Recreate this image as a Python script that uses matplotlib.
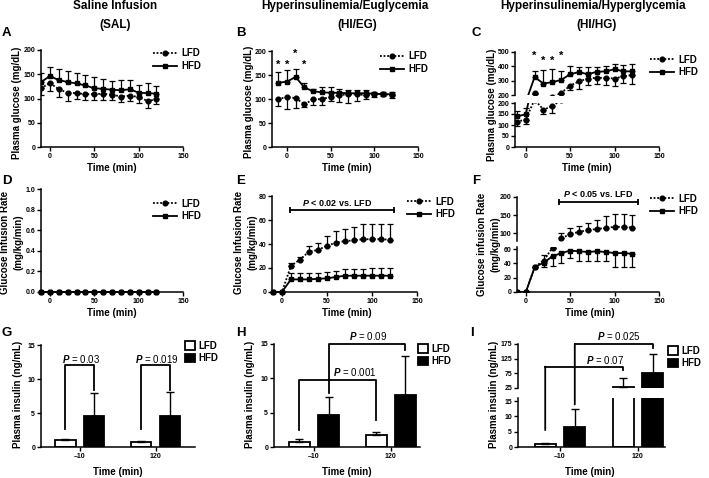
import matplotlib
matplotlib.use('Agg')
import matplotlib.pyplot as plt
from matplotlib.patches import ConnectionPatch, Patch
from matplotlib.lines import Line2D
import numpy as np

plt.rcParams['font.family'] = ['Liberation Sans', 'DejaVu Sans']
plt.rcParams['font.weight'] = 'bold'
plt.rcParams['axes.linewidth'] = 1.1
plt.rcParams['mathtext.fontset'] = 'custom'
plt.rcParams['mathtext.rm'] = 'Liberation Sans'
plt.rcParams['mathtext.it'] = 'Liberation Sans:italic'
plt.rcParams['mathtext.bf'] = 'Liberation Sans:bold'
plt.rcParams['mathtext.bfit'] = 'Liberation Sans:italic:bold'

# ---------------- data ----------------
time = [-10, 0, 10, 20, 30, 40, 50, 60, 70, 80, 90, 100, 110, 120]

# A: saline, plasma glucose
sal_lfd = [121, 132, 119, 112, 111, 109, 109, 110, 108, 104, 106, 103, 95, 98]
sal_lfd_err = [13, 17, 16, 17, 13, 12, 13, 14, 11, 11, 11, 13, 15, 10]
sal_hfd = [134, 146, 138, 134, 131, 127, 121, 120, 118, 117, 119, 112, 111, 110]
sal_hfd_err = [19, 19, 22, 22, 22, 22, 23, 21, 18, 21, 20, 16, 20, 16]

# B: HI/EG, plasma glucose
eg_lfd = [100, 104, 102, 89, 99, 100, 104, 108, 110, 110, 108, 110, 110, 108]
eg_lfd_err = [15, 24, 20, 5, 11, 12, 9, 14, 18, 14, 8, 6, 4, 6]
eg_hfd = [134, 136, 146, 124, 116, 114, 113, 113, 112, 112, 112, 111, 110, 110]
eg_hfd_err = [22, 24, 17, 9, 4, 10, 11, 8, 7, 7, 6, 4, 4, 5]
eg_star_t = [-10, 0, 10, 20]
eg_star_y = [172, 172, 194, 172]

# C: HI/HG, plasma glucose
hg_lfd = [115, 125, 215, 170, 185, 215, 265, 295, 315, 320, 320, 315, 330, 340]
hg_lfd_err = [20, 20, 5, 20, 31, 8, 30, 50, 45, 45, 50, 50, 45, 60]
hg_hfd = [140, 148, 325, 280, 290, 305, 345, 360, 345, 362, 365, 380, 365, 365]
hg_hfd_err = [25, 29, 43, 93, 88, 63, 60, 36, 47, 34, 35, 35, 43, 50]
hg_star_t = [10, 20, 30, 40]
hg_star_y = [470, 437, 437, 470]

# D: saline, GIR
gir_sal_lfd = [0] * 14
gir_sal_hfd = [0] * 14

# E: HI/EG, GIR
gir_eg_lfd = [0, 0, 21.7, 27, 33.6, 35, 38.6, 41, 42.5, 43, 44, 44, 44, 43.6]
gir_eg_lfd_err = [0, 0, 2.5, 2.5, 4.5, 5.5, 8, 10, 10, 11, 12.5, 13, 13, 12.8]
gir_eg_hfd = [0, 0, 10.5, 10.5, 10.5, 11, 11.4, 12.5, 13.6, 13.6, 13.6, 13.6, 13.6, 13.6]
gir_eg_hfd_err = [0, 0, 5, 5, 5, 5, 5, 4.7, 5.4, 5.4, 5.4, 6, 6, 6]

# F: HI/HG, GIR
gir_hg_lfd = [0, 0, 35, 44, 62, 86, 98, 104, 109, 112, 115, 118, 118, 116]
gir_hg_lfd_err = [0, 0, 0, 8, 0, 14, 16, 17, 20, 26, 33, 35, 35, 34]
gir_hg_hfd = [0, 0, 35, 41, 50, 54.5, 58, 57, 56, 57, 56, 54.5, 54.5, 53.5]
gir_hg_hfd_err = [0, 0, 0, 6, 14, 14.5, 11, 14, 12, 13, 12, 20, 19, 19]

# G-I: plasma insulin bars
bar_labels = ['\u201310', '120']
ins_sal_lfd = [1.05, 0.8]
ins_sal_lfd_err = [0.15, 0.15]
ins_sal_hfd = [4.5, 4.6]
ins_sal_hfd_err = [3.5, 3.5]
ins_eg_lfd = [0.7, 1.7]
ins_eg_lfd_err = [0.4, 0.5]
ins_eg_hfd = [4.6, 7.6]
ins_eg_hfd_err = [2.7, 5.6]
ins_hg_lfd = [1.0, 28]
ins_hg_lfd_err = [0.4, 32]
ins_hg_hfd = [6.6, 76]
ins_hg_hfd_err = [5.8, 65]

# ---------------- layout helpers ----------------
W, H = 709, 478
fig = plt.figure(figsize=(W / 100, H / 100), dpi=100)


def rect(l, r, t, b):
    return [l / W, 1 - b / H, (r - l) / W, (b - t) / H]


def fx(x):
    return x / W


def fy(y):
    return 1 - y / H


LW = 1.3
TICK_FS = 5
LAB_FS = 7


def style(ax, xaxis=True):
    ax.spines['top'].set_visible(False)
    ax.spines['right'].set_visible(False)
    ax.tick_params(direction='out', length=3, width=1, labelsize=TICK_FS, pad=1.2)
    if not xaxis:
        ax.spines['bottom'].set_visible(False)
        ax.tick_params(axis='x', bottom=False, labelbottom=False)


LFD_STYLE = dict(ls=(0, (1, 1)), marker='o', ms=3.4)
HFD_STYLE = dict(ls='-', marker='s', ms=3.4)


def series(ax, y, err, direction, st):
    y = np.asarray(y, float)
    err = np.asarray(err, float)
    z = np.zeros_like(err)
    yerr = [err, z] if direction == 'down' else [z, err]
    ax.errorbar(time, y, yerr=yerr, color='black', lw=LW, elinewidth=0.9,
                capsize=2.2, capthick=0.9, **st)


def line_legend(ax, x, y):
    h1 = Line2D([], [], color='k', lw=LW, **LFD_STYLE)
    h2 = Line2D([], [], color='k', lw=LW, **HFD_STYLE)
    ax.legend([h1, h2], ['LFD', 'HFD'], loc='center left',
              bbox_to_anchor=(fx(x), fy(y)), bbox_transform=fig.transFigure,
              frameon=False, fontsize=7, handlelength=2.5, handletextpad=0.4,
              labelspacing=0.3, borderpad=0, borderaxespad=0)


def bar_legend(ax, x, y):
    h1 = Patch(facecolor='white', edgecolor='black', lw=LW)
    h2 = Patch(facecolor='black', edgecolor='black', lw=LW)
    ax.legend([h1, h2], ['LFD', 'HFD'], loc='center left',
              bbox_to_anchor=(fx(x), fy(y)), bbox_transform=fig.transFigure,
              frameon=False, fontsize=7, handlelength=1.0, handleheight=1.0,
              handletextpad=0.4, labelspacing=0.25, borderpad=0, borderaxespad=0)


def ylabel(x, y, s, ls=1.2):
    fig.text(fx(x), fy(y), s, rotation=90, ha='center', va='center',
             fontsize=LAB_FS, weight='bold', linespacing=ls, multialignment='center')


def xlabel(x, y, s='Time (min)'):
    fig.text(fx(x), fy(y), s, ha='center', va='center', fontsize=LAB_FS, weight='bold')


def letter(x, y, s):
    fig.text(fx(x), fy(y), s, ha='left', va='center', fontsize=9.5, weight='bold')


XT = [0, 50, 100, 150]

# ---------------- titles ----------------
fig.text(fx(115), fy(6), 'Saline Infusion', ha='center', va='center', fontsize=8.5, weight='bold')
fig.text(fx(115), fy(25), '(SAL)', ha='center', va='center', fontsize=8.5, weight='bold')
fig.text(fx(345), fy(6), 'Hyperinsulinemia/Euglycemia', ha='center', va='center', fontsize=8.5, weight='bold')
fig.text(fx(357), fy(25), '(HI/EG)', ha='center', va='center', fontsize=8.5, weight='bold')
fig.text(fx(593), fy(6), 'Hyperinsulinemia/Hyperglycemia', ha='center', va='center', fontsize=8.5, weight='bold')
fig.text(fx(597), fy(25), '(HI/HG)', ha='center', va='center', fontsize=8.5, weight='bold')

# ---------------- A ----------------
axA = fig.add_axes(rect(41, 183, 50, 147))
series(axA, sal_lfd, sal_lfd_err, 'down', LFD_STYLE)
series(axA, sal_hfd, sal_hfd_err, 'up', HFD_STYLE)
axA.set_xlim(-10, 150)
axA.set_ylim(0, 200)
axA.set_xticks(XT)
axA.set_yticks([0, 50, 100, 150, 200])
style(axA)
line_legend(axA, 153, 59.5)
letter(2, 33, 'A')
ylabel(17, 103, 'Plasma glucose (mg/dL)')
xlabel(112, 168)

# ---------------- B ----------------
axB = fig.add_axes(rect(272, 418, 51, 147))
series(axB, eg_lfd, eg_lfd_err, 'down', LFD_STYLE)
series(axB, eg_hfd, eg_hfd_err, 'up', HFD_STYLE)
for t, yv in zip(eg_star_t, eg_star_y):
    axB.text(t, yv, '*', ha='center', va='center', fontsize=8, weight='bold')
axB.set_xlim(-17, 150)
axB.set_ylim(0, 200)
axB.set_xticks(XT)
axB.set_yticks([0, 50, 100, 150, 200])
style(axB)
line_legend(axB, 380, 62.5)
letter(236, 33, 'B')
ylabel(249, 102, 'Plasma glucose (mg/dL)')
xlabel(347, 168)

# ---------------- C (broken) ----------------
axCl = fig.add_axes(rect(515, 659, 103, 147))
axCu = fig.add_axes(rect(515, 659, 52, 95), sharex=axCl)
for ax in (axCl, axCu):
    series(ax, hg_lfd, hg_lfd_err, 'down', LFD_STYLE)
    series(ax, hg_hfd, hg_hfd_err, 'up', HFD_STYLE)
for t, yv in zip(hg_star_t, hg_star_y):
    axCu.text(t, yv, '*', ha='center', va='center', fontsize=8, weight='bold')
axCl.set_xlim(-12, 150)
axCl.set_ylim(0, 200)
axCu.set_ylim(200, 500)
axCl.set_xticks(XT)
axCl.set_yticks([0, 50, 100, 150, 200])
axCu.set_yticks([200, 300, 400, 500])
style(axCl)
style(axCu, xaxis=False)
line_legend(axCu, 650, 66)
letter(472, 33, 'C')
ylabel(492, 105, 'Plasma glucose (mg/dL)')
xlabel(587, 168)

# ---------------- D ----------------
axD = fig.add_axes(rect(41, 183, 189, 292))
series(axD, gir_sal_lfd, [0] * 14, 'up', LFD_STYLE)
series(axD, gir_sal_hfd, [0] * 14, 'up', HFD_STYLE)
axD.set_xlim(-10, 150)
axD.set_ylim(0, 1.0)
axD.set_xticks(XT)
axD.set_yticks([0, 0.2, 0.4, 0.6, 0.8, 1.0])
axD.set_yticklabels(['0.0', '0.2', '0.4', '0.6', '0.8', '1.0'])
for l in axD.get_lines():
    l.set_clip_on(False)
style(axD)
line_legend(axD, 153, 210)
letter(2, 181, 'D')
ylabel(12, 242, 'Glucose Infusion Rate\n(mg/kg/min)', ls=1.45)
xlabel(112, 313)

# ---------------- E ----------------
axE = fig.add_axes(rect(272, 417, 196, 292))
series(axE, gir_eg_lfd, gir_eg_lfd_err, 'up', LFD_STYLE)
series(axE, gir_eg_hfd, gir_eg_hfd_err, 'up', HFD_STYLE)
axE.plot([9, 125], [68.3, 68.3], color='k', lw=LW)
axE.plot([9, 125], [68.3, 68.3], ls='none', marker='|', ms=5, mew=LW, color='k')
axE.text(61, 74.5, r'$\mathbfit{P}$ < 0.02 vs. LFD', ha='center', va='center',
         fontsize=6.5, weight='bold')
axE.set_xlim(-11, 150)
axE.set_ylim(0, 80)
axE.set_xticks(XT)
axE.set_yticks([0, 20, 40, 60, 80])
for l in axE.get_lines():
    l.set_clip_on(False)
style(axE)
line_legend(axE, 407, 208)
letter(236, 181, 'E')
ylabel(246, 242, 'Glucose Infusion Rate\n(mg/kg/min)', ls=1.45)
xlabel(347, 313)

# ---------------- F (broken) ----------------
axFl = fig.add_axes(rect(517, 659, 247, 292))
axFu = fig.add_axes(rect(517, 659, 197, 240.6), sharex=axFl)
for ax in (axFl, axFu):
    series(ax, gir_hg_lfd, gir_hg_lfd_err, 'up', LFD_STYLE)
    series(ax, gir_hg_hfd, gir_hg_hfd_err, 'down', HFD_STYLE)
axFu.plot([37, 126], [186, 186], color='k', lw=LW, clip_on=False)
axFu.plot([37, 126], [186, 186], ls='none', marker='|', ms=5, mew=LW, color='k', clip_on=False)
axFu.text(81, 209, r'$\mathbfit{P}$ < 0.05 vs. LFD', ha='center', va='center',
          fontsize=6.5, weight='bold')
axFl.set_xlim(-10, 150)
axFl.set_ylim(0, 63)
axFu.set_ylim(80, 200)
axFl.set_xticks(XT)
axFl.set_yticks([0, 20, 40, 60])
axFu.set_yticks([100, 150, 200])
style(axFl)
style(axFu, xaxis=False)
line_legend(axFu, 650, 205)
letter(472, 181, 'F')
ylabel(489, 244, 'Glucose infusion Rate\n(mg/kg/min)', ls=1.45)
xlabel(590, 313)

# ---------------- bar panels ----------------
xb = np.arange(2)
OFF = 0.19
BW = 0.27


def bars(ax, lfd, lfd_err, hfd, hfd_err, cap=None):
    lfd = np.asarray(lfd, float)
    hfd = np.asarray(hfd, float)
    lfd_err = np.asarray(lfd_err, float)
    hfd_err = np.asarray(hfd_err, float)
    ek = dict(capsize=3, elinewidth=1, capthick=1, ecolor='black')
    if cap is not None:
        # lower segment of a broken axis: bars end just above the segment top
        lh = np.minimum(lfd, cap)
        hh = np.minimum(hfd, cap)
        le = np.where(lfd > cap, 0, lfd_err)
        he = np.where(hfd > cap, 0, hfd_err)
    else:
        lh, hh, le, he = lfd, hfd, lfd_err, hfd_err
    ax.bar(xb - OFF, lh, BW, color='white', edgecolor='black', lw=LW,
           yerr=[np.zeros(2), le], error_kw=ek)
    ax.bar(xb + OFF, hh, BW, color='black', edgecolor='black', lw=LW,
           yerr=[np.zeros(2), he], error_kw=ek)


def ptext(ax, x, y, s):
    ax.text(x, y, r'$\it{P}$ = ' + s, ha='center', va='center', fontsize=7,
            weight='normal', clip_on=False)


# G
axG = fig.add_axes(rect(41, 195, 345, 447))
bars(axG, ins_sal_lfd, ins_sal_lfd_err, ins_sal_hfd, ins_sal_hfd_err)
for g in range(2):
    axG.plot([g - OFF, g - OFF, g + OFF, g + OFF], [2.6, 12.0, 12.0, 8.4], color='k', lw=LW)
ptext(axG, 0.02, 12.9, '0.03')
ptext(axG, 1.02, 12.9, '0.019')
axG.set_xlim(-0.51, 1.52)
axG.set_ylim(0, 15)
axG.set_xticks(xb)
axG.set_xticklabels(bar_labels)
axG.set_yticks([0, 5, 10, 15])
style(axG)
bar_legend(axG, 185, 352)
letter(2, 333, 'G')
ylabel(18, 394, 'Plasma insulin (ng/mL)')
xlabel(118, 472)

# H
axH = fig.add_axes(rect(274, 420, 344, 447))
bars(axH, ins_eg_lfd, ins_eg_lfd_err, ins_eg_hfd, ins_eg_hfd_err)
axH.plot([-OFF, -OFF, 1 - OFF, 1 - OFF], [2.5, 9.8, 9.8, 3.9], color='k', lw=LW, clip_on=False)
axH.plot([OFF, OFF, 1 + OFF, 1 + OFF], [7.9, 15.0, 15.0, 14.1], color='k', lw=LW, clip_on=False)
ptext(axH, 0.53, 10.9, '0.001')
ptext(axH, 0.71, 16.1, '0.09')
axH.set_xlim(-0.52, 1.38)
axH.set_ylim(0, 15)
axH.set_xticks(xb)
axH.set_xticklabels(bar_labels)
axH.set_yticks([0, 5, 10, 15])
style(axH)
bar_legend(axH, 418, 355)
letter(236, 333, 'H')
ylabel(250, 394, 'Plasma insulin (ng/mL)')
xlabel(347, 472)

# I (broken)
I_LOW_TOP = 16
axIl = fig.add_axes(rect(518, 665, 398, 447))
axIu = fig.add_axes(rect(518, 665, 344, 388), sharex=axIl)
bars(axIl, ins_hg_lfd, ins_hg_lfd_err, ins_hg_hfd, ins_hg_hfd_err, cap=I_LOW_TOP + 1)
bars(axIu, ins_hg_lfd, ins_hg_lfd_err, ins_hg_hfd, ins_hg_hfd_err)
axIl.set_xlim(-0.54, 1.35)
axIl.set_ylim(0, I_LOW_TOP)
axIu.set_ylim(25, 175)
axIl.set_xticks(xb)
axIl.set_xticklabels(bar_labels)
axIl.set_yticks([0, 5, 10, 15])
axIu.set_yticks([25, 75, 125, 175])
style(axIl)
style(axIu, xaxis=False)
# brackets crossing the axis break
for xv, y0, y1 in [(-OFF, 5.5, 98), (OFF, 13.9, 175)]:
    fig.add_artist(ConnectionPatch((xv, y0), (xv, y1), coordsA='data', coordsB='data',
                                   axesA=axIl, axesB=axIu, color='k', lw=LW))
axIu.plot([-OFF, 1 - OFF, 1 - OFF], [98, 98, 87], color='k', lw=LW, clip_on=False)
axIu.plot([OFF, 1 + OFF, 1 + OFF], [175, 175, 160], color='k', lw=LW, clip_on=False)
ptext(axIu, 0.58, 121, '0.07')
ptext(axIu, 0.76, 202, '0.025')
bar_legend(axIu, 668, 357)
letter(470, 333, 'I')
ylabel(494, 394, 'Plasma insulin (ng/mL)')
xlabel(590, 472)

fig.savefig('out.png', dpi=100)
